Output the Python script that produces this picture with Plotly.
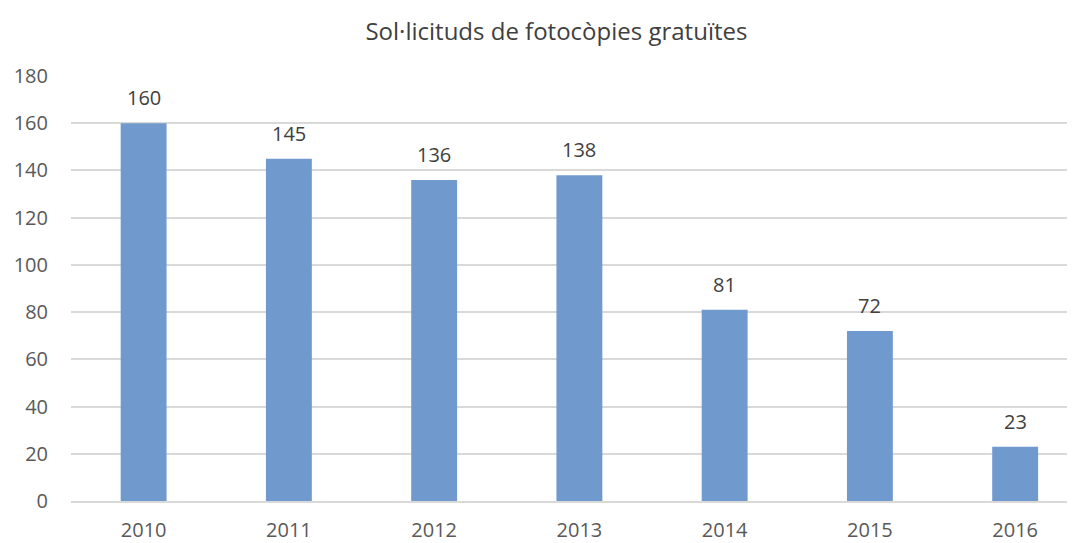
import plotly.graph_objects as go

years = ["2010", "2011", "2012", "2013", "2014", "2015", "2016"]
requests_count = [160, 145, 136, 138, 81, 72, 23]
y_ticks = [0, 20, 40, 60, 80, 100, 120, 140, 160, 180]

fig = go.Figure()
fig.add_trace(
    go.Bar(
        x=years,
        y=requests_count,
        marker=dict(color="#709ACD", line=dict(width=0)),
        hoverinfo="x+y",
    )
)

# data labels sit a bit higher above the bars than plotly's "outside" text
# (years look numeric, so place by category index)
for i, val in enumerate(requests_count):
    fig.add_annotation(
        x=i, y=val, xref="x", yref="y", text=str(val),
        showarrow=False, yanchor="bottom", yshift=10,
        font=dict(size=20, color="#404040"),
    )

# page body has an 8px margin, so the figure is shrunk by that much
fig.update_layout(
    width=1067,
    height=535,
    margin=dict(l=63, r=0, t=68, b=40),
    paper_bgcolor="white",
    plot_bgcolor="white",
    font=dict(family="Open Sans, Noto Sans, sans-serif", color="#595959", size=20),
    title=dict(
        text="Sol·licituds de fotocòpies gratuïtes",
        x=0.514,
        xanchor="center",
        y=0.955,
        yanchor="middle",
        font=dict(size=24, color="#404040"),
    ),
    bargap=0.684,
    showlegend=False,
)
fig.update_xaxes(
    type="category",
    range=[-0.5, 6.412],
    showgrid=False,
    showline=True,
    linecolor="#D9D9D9",
    linewidth=1.5,
    ticks="",
    ticklabelstandoff=10,
    tickfont=dict(size=20, color="#595959"),
)
fig.update_yaxes(
    range=[0, 180],
    tickvals=y_ticks,
    showgrid=True,
    gridcolor="#D9D9D9",
    gridwidth=1.5,
    zeroline=False,
    showline=False,
    ticks="",
    ticklabelstandoff=22,
    tickfont=dict(size=20, color="#595959"),
)

fig.write_html("out.html")
